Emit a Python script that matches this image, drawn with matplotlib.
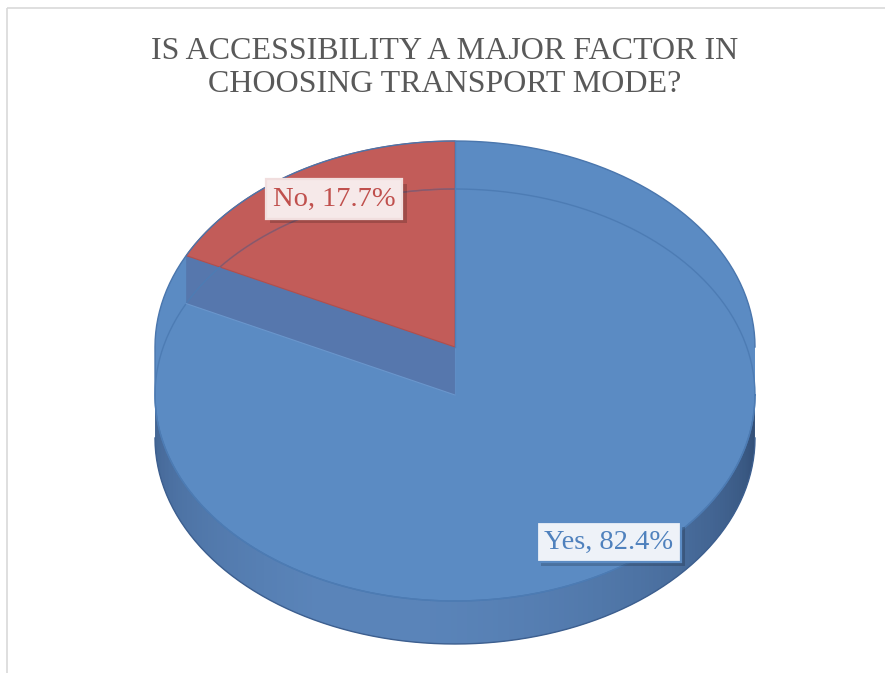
import numpy as np
import matplotlib
matplotlib.use("Agg")
import matplotlib.pyplot as plt
from matplotlib.patches import Polygon, Rectangle
from matplotlib.colors import to_rgb
from matplotlib import patheffects as pe

# Survey answers
categories = ["Yes", "No"]
shares = [82.4, 17.7]
title = "IS ACCESSIBILITY A MAJOR FACTOR IN\nCHOOSING TRANSPORT MODE?"

W, H = 885, 673
fig = plt.figure(figsize=(W / 100, H / 100), dpi=100)
ax = fig.add_axes([0, 0, 1, 1])
ax.set_xlim(0, W)
ax.set_ylim(H, 0)
ax.axis("off")

serif = ["Liberation Serif", "DejaVu Serif"]

# chart frame
ax.add_patch(Rectangle((7, 8), W, H, fill=False, ec="#d9d9d9", lw=1.2))

ax.text(W / 2 + 2, 68, title, ha="center", va="center", fontsize=23,
        color="#595959", family=serif, linespacing=1.22)

# 3-D pie geometry (screen units)
cx, a, b = 455, 300, 206
cy_top, cy_low = 347, 395        # upper / lower rim levels
depth = 43                       # visible thickness of the front wall

BLUE = "#5b8bc3"
BLUE_WALL = "#5677ad"
RED = "#c25c59"


def rim(theta_deg, cy, aa=a, bb=b):
    t = np.radians(theta_deg)
    return np.column_stack([cx + aa * np.cos(t), cy - bb * np.sin(t)])


total = sum(shares)
sweep_no = 360 * shares[1] / total
start_no, end_no = 90.0, 90.0 + sweep_no   # "No" runs counter-clockwise from 12 o'clock

# front wall, shaded strip by strip (strips overlap slightly to avoid seams)
dark_l = np.array(to_rgb("#3d5d8a"))
mid = np.array(to_rgb("#5a84b9"))
dark_r = np.array(to_rgb("#304c74"))
angs = np.linspace(180, 360, 181)
for t0, t1 in zip(angs[:-1], angs[1:]):
    p = rim(np.array([t0 - 0.6, t1 + 0.6]), cy_low)
    quad = np.vstack([p, p[::-1] + [0, depth]])
    u = (0.5 * (t0 + t1) - 180) / 180
    if u < 0.45:
        col = dark_l + (mid - dark_l) * min(1, u / 0.35) ** 0.6
    else:
        col = mid + (dark_r - mid) * ((u - 0.45) / 0.55) ** 1.6
    ax.add_patch(Polygon(quad, closed=True, fc=col, ec="none"))
bottom = rim(angs, cy_low) + [0, depth]
ax.plot(bottom[:, 0], bottom[:, 1], color="#3d5f8f", lw=1.0)

# body of the disc: both rim levels and the band between them
full = np.linspace(0, 360, 361)
ax.add_patch(Polygon(rim(full, cy_top), closed=True, fc=BLUE, ec="none"))
ax.add_patch(Polygon(rim(full, cy_low), closed=True, fc=BLUE, ec="none"))
ax.add_patch(Rectangle((cx - a, cy_top), 2 * a, cy_low - cy_top, fc=BLUE, ec="none"))

outline = np.vstack([rim(np.linspace(0, 180, 181), cy_top),
                     rim(np.linspace(180, 360, 181), cy_low)])
ax.plot(outline[:, 0], outline[:, 1], color="#4a76ad", lw=1.0)

# lower rim line across the face
low = rim(full, cy_low)
ax.plot(low[:, 0], low[:, 1], color="#4d7cb4", lw=1.0)

# radial wall exposed under the "No" slice
edge_top = np.vstack([[cx, cy_top], rim(end_no, cy_top)])
edge_low = np.vstack([[cx, cy_low], rim(end_no, cy_low)])
wall = np.vstack([edge_top, edge_low[::-1]])
ax.add_patch(Polygon(wall, closed=True, fc=BLUE_WALL, ec="none"))
ax.plot(edge_low[:, 0], edge_low[:, 1], color="#6a96cc", lw=0.8)
ax.plot([cx, cx], [cy_top, cy_low], color="#5f8dc5", lw=0.8)

# "No" slice
sector = np.vstack([[cx, cy_top], rim(np.linspace(start_no, end_no, 120), cy_top)])
red = Polygon(sector, closed=True, fc=RED, ec="#b24e4b", lw=0.8)
ax.add_patch(red)
ln, = ax.plot(low[:, 0], low[:, 1], color="#ad4542", lw=1.0, alpha=0.7)
ln.set_clip_path(red)
ax.plot([cx, cx], [cy_top - b, cy_top], color="#4f7fb8", lw=1.0)


def label(x, y, s, tc, fc, ec):
    t = ax.text(x, y, s, ha="center", va="center", fontsize=20.5, family=serif,
                color=tc, bbox=dict(boxstyle="square,pad=0.25", fc=fc, ec=ec, lw=1.6))
    t.get_bbox_patch().set_path_effects(
        [pe.SimplePatchShadow(offset=(3, -3), shadow_rgbFace="black", alpha=0.18), pe.Normal()])


label(334, 199, f"{categories[1]}, {shares[1]}%", "#c0504d", "#f6e9e9", "#f1dede")
label(609, 542, f"{categories[0]}, {shares[0]}%", "#4f81bd", "#eef2f8", "#5b8bc3")

fig.savefig("out.png", dpi=100)
